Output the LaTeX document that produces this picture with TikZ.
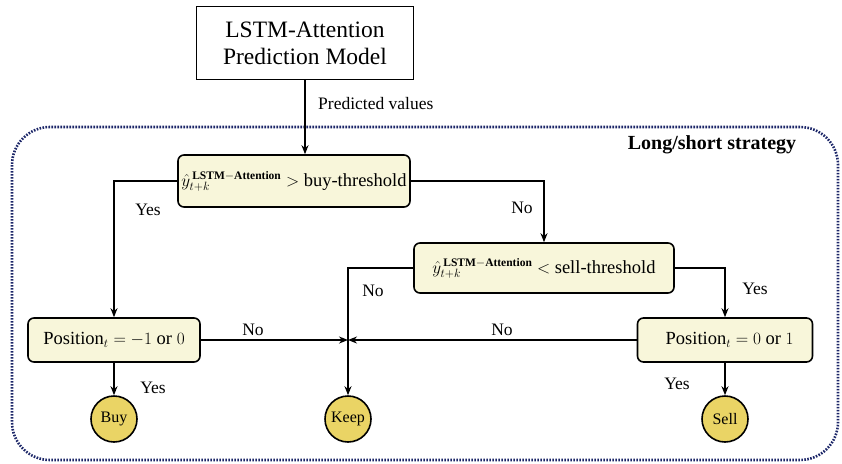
\documentclass[tikz,border=0pt]{standalone}
\usepackage{fontspec}
\setmainfont{Liberation Serif}
\usetikzlibrary{arrows.meta}
\definecolor{boxfill}{HTML}{F8F6DA}
\definecolor{circfill}{HTML}{EAD465}
\definecolor{navy}{HTML}{1C2668}
\newcommand{\yhatla}{$\hat{y}^{\,\mbox{\fontsize{11.5}{12}\selectfont\bfseries LSTM$-$Attention}}_{t+k}$}
\tikzset{
  dbox/.style={draw=black, line width=1.6pt, rounded corners=6pt, fill=boxfill, inner sep=0pt, font=\rmfamily\fontsize{18.5}{22}\selectfont},
  topbox/.style={draw=black, line width=1.6pt, fill=white, inner sep=0pt, align=center, font=\rmfamily\fontsize{23.5}{27}\selectfont},
  endc/.style={draw=black, line width=1.6pt, circle, fill=circfill, minimum size=46pt, inner sep=0pt, font=\rmfamily\fontsize{16}{18}\selectfont},
  conn/.style={line width=1.6pt, -{Stealth[length=9pt,width=7pt]}},
  lbl/.style={font=\rmfamily\fontsize{17.5}{20}\selectfont, inner sep=0pt},
}
\begin{document}
\begin{tikzpicture}[x=1pt,y=-1pt]
\useasboundingbox (0,0) rectangle (842,463);
% container
\draw[navy, line width=2.6pt, dash pattern=on 1.6pt off 1.4pt, rounded corners=38pt] (12,127) rectangle (838,460);
\node[font=\rmfamily\fontsize{20}{24}\selectfont\bfseries, anchor=center] (title) at (712,145) {Long/short strategy};

\node[topbox, minimum width=217pt, minimum height=73pt] (model) at (305,43) {LSTM-Attention\\Prediction Model};
\node[dbox, minimum width=232pt, minimum height=52pt] (b1) at (294,181) {\yhatla\ $>$ buy-threshold};
\node[dbox, minimum width=260pt, minimum height=50pt] (b2) at (544,268) {\yhatla\ $<$ sell-threshold};
\node[dbox, minimum width=172pt, minimum height=44pt] (b3) at (114,340) {Position$_t = -1$ or $0$};
\node[dbox, minimum width=175pt, minimum height=44pt] (b4) at (725,340) {\ \ Position$_t = 0$ or $1$};
\node[endc] (buy) at (114,419) {Buy};
\node[endc] (keep) at (348,419) {Keep};
\node[endc] (sell) at (725,419) {Sell};
\coordinate (mid) at (348,340);

\draw[conn] (model.south) -- (model.south |- b1.north);
\node[lbl, anchor=west] (pv) at (318,104) {Predicted values};

\draw[conn] (b1.west) -| (b3.north);
\node[lbl] (y1) at (148,210) {Yes};
\draw[conn] (b1.east) -| (b2.north);
\node[lbl] (n1) at (522,208) {No};
\draw[conn] (b2.west) -| (keep.north);
\node[lbl] (n2) at (373,291) {No};
\draw[conn] (b2.east) -| (b4.north);
\node[lbl] (y2) at (755,289) {Yes};
\draw[conn] (b3.east) -- (mid);
\node[lbl] (n3) at (253,330) {No};
\draw[conn] (b4.west) -- (mid);
\node[lbl] (n4) at (502,330) {No};
\draw[conn] (b3.south) -- (buy.north);
\node[lbl] (y3) at (153,388) {Yes};
\draw[conn] (b4.south) -- (sell.north);
\node[lbl] (y4) at (677,384) {Yes};
\end{tikzpicture}
\end{document}
